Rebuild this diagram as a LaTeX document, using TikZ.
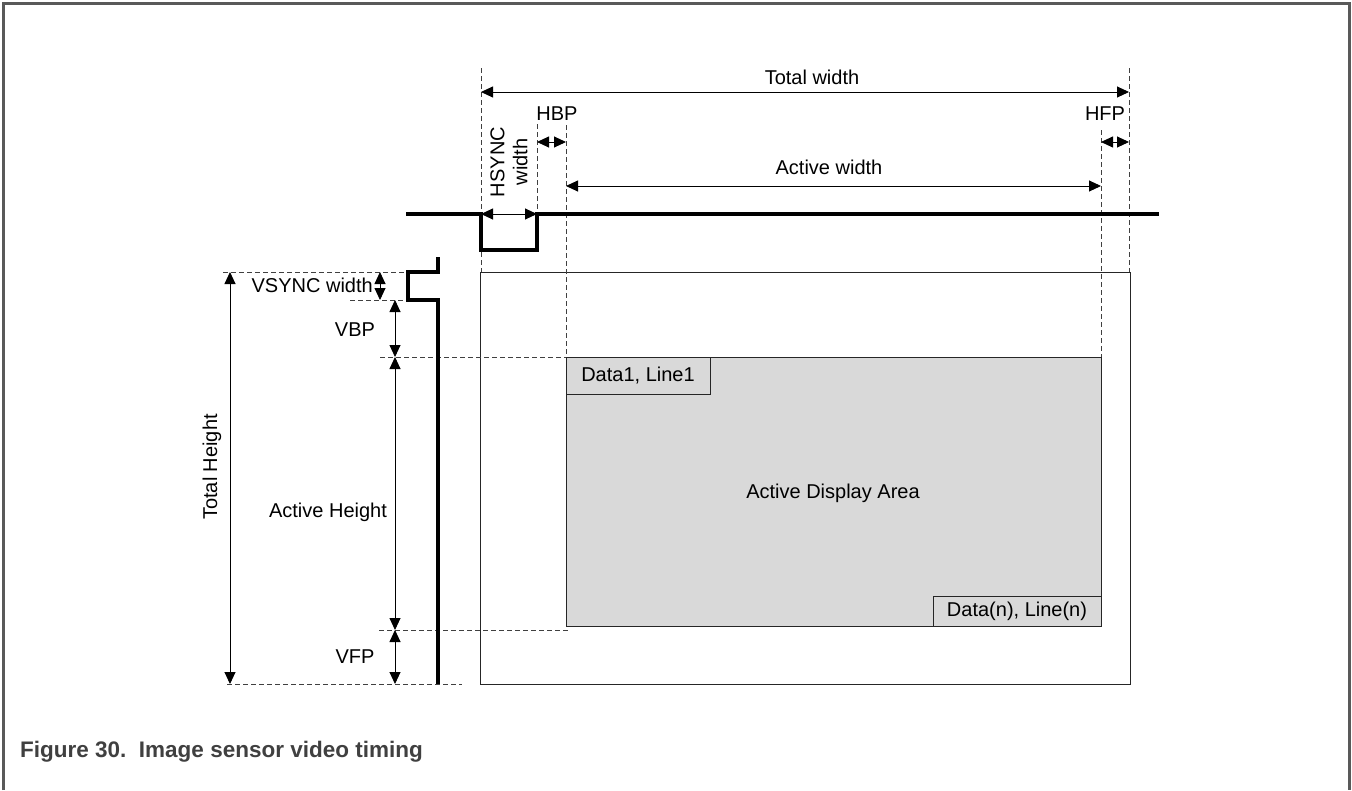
\documentclass[tikz,border=0pt]{standalone}
\usepackage{fontspec}
\setmainfont{Liberation Sans}
\usetikzlibrary{arrows.meta}
\begin{document}
\begin{tikzpicture}[x=1pt,y=-1pt,
  lbl/.style={font=\fontsize{20}{23}\selectfont, inner sep=0pt, text=black},
  dim/.style={line width=0.9pt, {Triangle[length=12pt,width=11pt]}-{Triangle[length=12pt,width=11pt]}},
  guide/.style={dash pattern=on 5pt off 3pt, line width=0.8pt, black!75},
  sig/.style={line width=3.6pt, line join=miter},
  boxline/.style={line width=1pt, black!85},
  frameline/.style={line width=3pt, black!65}]
\useasboundingbox (0,0) rectangle (1352,790);
% page frame
\coordinate (F1) at (3,790);
\coordinate (F2) at (3,3);
\coordinate (F3) at (1349,3);
\coordinate (F4) at (1349,790);
\draw[frameline] (F1) -- (F2) -- (F3) -- (F4);

% outer (total) frame and active area
\coordinate (OTL) at (480,272);
\coordinate (OBR) at (1130,684);
\draw[boxline] (OTL) rectangle (OBR);
\coordinate (ATL) at (566,357);
\coordinate (ABR) at (1101,626);
\draw[boxline, fill=black!15] (ATL) rectangle (ABR);
\node[lbl] (ada) at (833,493) {Active Display Area};
\coordinate (D1a) at (566,357);
\coordinate (D1b) at (710,394);
\draw[boxline, fill=black!15] (D1a) rectangle (D1b);
\node[lbl] (d1) at (638,376) {Data1, Line1};
\coordinate (Dna) at (933,596);
\coordinate (Dnb) at (1101,626);
\draw[boxline, fill=black!15] (Dna) rectangle (Dnb);
\node[lbl] (dn) at (1017,611) {Data(n), Line(n)};

% vertical dashed guides
\coordinate (G1t) at (481,68);   \coordinate (G1b) at (481,272);
\coordinate (G2t) at (1129,68);  \coordinate (G2b) at (1129,272);
\coordinate (G3t) at (537,124);  \coordinate (G3b) at (537,214);
\coordinate (G4t) at (566,125);  \coordinate (G4b) at (566,357);
\coordinate (G5t) at (1101,130); \coordinate (G5b) at (1101,357);
\draw[guide] (G1t) -- (G1b);
\draw[guide] (G2t) -- (G2b);
\draw[guide] (G3t) -- (G3b);
\draw[guide] (G4t) -- (G4b);
\draw[guide] (G5t) -- (G5b);

% horizontal dashed guides
\coordinate (H1a) at (223,272); \coordinate (H1b) at (408,272);
\coordinate (H2a) at (350,300); \coordinate (H2b) at (408,300);
\coordinate (H3a) at (380,357); \coordinate (H3b) at (566,357);
\coordinate (H4a) at (379,630); \coordinate (H4b) at (568,630);
\coordinate (H5a) at (227,684); \coordinate (H5b) at (462,684);
\draw[guide] (H1a) -- (H1b);
\draw[guide] (H2a) -- (H2b);
\draw[guide] (H3a) -- (H3b);
\draw[guide] (H4a) -- (H4b);
\draw[guide] (H5a) -- (H5b);

% HSYNC signal
\coordinate (hs0) at (406,214);
\coordinate (hs1) at (481,214);
\coordinate (hs2) at (481,250);
\coordinate (hs3) at (537,250);
\coordinate (hs4) at (537,214);
\coordinate (hs5) at (1159,214);
\draw[sig] (hs0) -- (hs1) -- (hs2) -- (hs3) -- (hs4) -- (hs5);

% VSYNC signal
\coordinate (vs0) at (438,257);
\coordinate (vs1) at (438,272);
\coordinate (vs2) at (408,272);
\coordinate (vs3) at (408,300);
\coordinate (vs4) at (438,300);
\coordinate (vs5) at (438,684);
\draw[sig] (vs0) -- (vs1) -- (vs2) -- (vs3) -- (vs4) -- (vs5);

% horizontal dimensions
\coordinate (tw1) at (481,92);  \coordinate (tw2) at (1129,92);
\draw[dim] (tw1) -- (tw2);
\node[lbl] (twl) at (812,77) {Total width};
\coordinate (aw1) at (566,186); \coordinate (aw2) at (1101,186);
\draw[dim] (aw1) -- (aw2);
\node[lbl] (awl) at (829,167) {Active width};
\coordinate (hb1) at (537,142); \coordinate (hb2) at (566,142);
\draw[dim] (hb1) -- (hb2);
\node[lbl] (hbl) at (557,114) {HBP};
\coordinate (hf1) at (1101,142); \coordinate (hf2) at (1129,142);
\draw[dim] (hf1) -- (hf2);
\node[lbl] (hfl) at (1105,114) {HFP};
\coordinate (hw1) at (481,214); \coordinate (hw2) at (537,214);
\draw[dim] (hw1) -- (hw2);
\node[lbl, rotate=90, align=center] (hwl) at (509,162) {HSYNC\\width};

% vertical dimensions
\coordinate (th1) at (230,272); \coordinate (th2) at (230,684);
\draw[dim] (th1) -- (th2);
\node[lbl, rotate=90] (thl) at (212,467) {Total Height};
\coordinate (vw1) at (380,272); \coordinate (vw2) at (380,300);
\draw[dim] (vw1) -- (vw2);
\node[lbl, anchor=east] (vwl) at (373,285) {VSYNC width};
\coordinate (vb1) at (395,300); \coordinate (vb2) at (395,357);
\draw[dim] (vb1) -- (vb2);
\node[lbl] (vbl) at (355,330) {VBP};
\coordinate (ah1) at (395,357); \coordinate (ah2) at (395,630);
\draw[dim] (ah1) -- (ah2);
\node[lbl] (ahl) at (328,512) {Active Height};
\coordinate (vf1) at (395,630); \coordinate (vf2) at (395,684);
\draw[dim] (vf1) -- (vf2);
\node[lbl] (vfl) at (355,657) {VFP};

% caption
\node[anchor=west, inner sep=0pt, font=\fontsize{22.5}{26}\selectfont\bfseries, text=black!75] (cap) at (20,752) {Figure 30.\ \ Image sensor video timing};
\end{tikzpicture}
\end{document}
